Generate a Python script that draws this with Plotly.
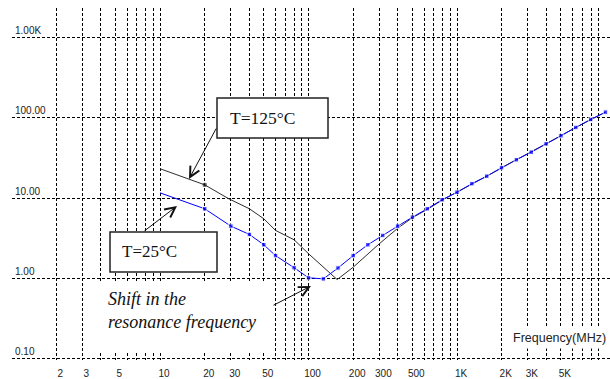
import plotly.graph_objects as go

# ---- data ----
freq_25 = [10, 20, 30, 40, 50, 60, 80, 100, 126, 158, 200, 251, 316, 398, 501, 631, 794,
           1000, 1259, 1585, 1995, 2512, 3162, 3981, 5012, 6310, 7943, 10000]
imp_25 = [11.6, 7.34, 4.46, 3.51, 2.61, 1.91, 1.35, 1.01, 0.98, 1.34, 1.91, 2.61, 3.41, 4.46,
          5.77, 7.34, 9.51, 11.8, 15.1, 18.7, 23.9, 30.0, 37.3, 47.5, 59.8, 75.9, 95.5, 117.8]
freq_125 = [10, 20, 29, 40, 50, 60, 80, 100, 156, 200, 300, 400, 500, 631, 794,
            1000, 1259, 1585, 1995, 2512, 3162, 3981, 5012, 6310, 7943, 10000]
imp_125 = [23.2, 14.6, 9.8, 7.34, 5.51, 3.94, 3.01, 2.02, 0.96, 1.37, 2.69, 4.21, 5.67, 7.2, 9.4,
           11.8, 15.1, 18.7, 23.9, 30.0, 37.3, 47.5, 59.8, 75.9, 95.5, 117.8]

x_label_vals = [2, 3, 5, 10, 20, 30, 50, 100, 200, 300, 500, 1000, 2000, 3000, 5000]
x_label_text = ["2", "3", "5", "10", "20", "30", "50", "100", "200", "300", "500", "1K", "2K", "3K", "5K"]
x_minor_vals = [4, 6, 7, 8, 9, 40, 60, 70, 80, 90, 400, 600, 700, 800, 900,
                4000, 6000, 7000, 8000, 9000]
y_tick_vals = [0.1, 1, 10, 100, 1000]
y_tick_text = ["0.10", "1.00", "10.00", "100.00", "1.00K"]

W, H = 610, 379
ML, MR, MT, MB = 12, 0, 8, 19
PW, PH = W - ML - MR, H - MT - MB


def px(x):
    return (x - ML) / PW


def py(y):
    return (H - MB - y) / PH


fig = go.Figure()
fig.add_trace(go.Scatter(
    x=freq_125, y=imp_125, mode="lines+markers",
    line=dict(color="#2e2e2e", width=1),
    marker=dict(symbol="square", color="#111111",
                size=[0, 3] + [0] * (len(freq_125) - 2)),
    showlegend=False, hoverinfo="skip"))
fig.add_trace(go.Scatter(
    x=freq_25, y=imp_25, mode="lines+markers",
    line=dict(color="#0000ff", width=1),
    marker=dict(symbol="square", color="#0000ff",
                size=[0] + [4.5] * (len(freq_25) - 1)),
    showlegend=False, hoverinfo="skip"))

grid = dict(showgrid=True, gridcolor="#000000", gridwidth=1, griddash="3px,2px")

fig.update_xaxes(
    type="log", range=[0.0034, 0.0034 + PW / 148.5],
    tickmode="array", tickvals=x_label_vals, ticktext=x_label_text,
    ticks="", ticklabelshift=4, ticklabelstandoff=6,
    tickfont=dict(family="Liberation Sans, Arial", size=10, color="#222222"),
    showline=False, zeroline=False, automargin=False,
    minor=dict(tickmode="array", tickvals=x_minor_vals, ticks="", **grid),
    **grid)
fig.update_yaxes(
    type="log", range=[-1.0212, 3.3706],
    tickmode="array", tickvals=y_tick_vals, ticktext=y_tick_text,
    ticks="", ticklabelposition="inside top",
    tickfont=dict(family="Liberation Sans, Arial", size=10, color="#222222"),
    showline=False, zeroline=False, automargin=False,
    **grid)

shapes = [
    # white area behind italic note
    dict(type="rect", xref="paper", yref="paper", x0=px(95), x1=px(270), y0=py(352), y1=py(283),
         fillcolor="white", line=dict(width=0), layer="above"),
    # label boxes
    dict(type="rect", xref="paper", yref="paper", x0=px(217), x1=px(328), y0=py(138), y1=py(98),
         fillcolor="white", line=dict(color="#222222", width=1.5), layer="above"),
    dict(type="rect", xref="paper", yref="paper", x0=px(110), x1=px(217), y0=py(272), y1=py(232),
         fillcolor="white", line=dict(color="#222222", width=1.5), layer="above"),
]

annos = [
    dict(text="T=125°C", x=px(228), y=py(118), xanchor="left", yanchor="middle",
         font=dict(family="Liberation Serif, Times New Roman", size=17.5, color="#111111")),
    dict(text="T=25°C", x=px(120), y=py(252), xanchor="left", yanchor="middle",
         font=dict(family="Liberation Serif, Times New Roman", size=17, color="#111111")),
    dict(text="<i>Shift in the<br>resonance frequency</i>", x=px(106), y=py(310),
         xanchor="left", yanchor="middle", align="left",
         font=dict(family="Liberation Serif, Times New Roman", size=18, color="#111111")),
    dict(text="Frequency(MHz)", x=px(509), y=py(338), xanchor="left", yanchor="middle",
         bgcolor="white", borderpad=3,
         font=dict(family="Liberation Sans, Arial", size=12.5, color="#222222")),
]
# arrows: (tail, head) in pixel positions
arrows = [((217, 127), (189, 179)), ((143, 232), (177, 206)), ((272, 306), (311, 286))]
for (tx, ty), (hx, hy) in arrows:
    annos.append(dict(text="", x=px(hx), y=py(hy), ax=tx - hx, ay=ty - hy,
                      showarrow=True, arrowhead=5, arrowsize=2.0, arrowwidth=1,
                      arrowcolor="#111111"))
for a in annos:
    a.setdefault("xref", "paper")
    a.setdefault("yref", "paper")
    a.setdefault("showarrow", False)

fig.update_layout(
    width=W, height=H, template="none",
    margin=dict(l=ML, r=MR, t=MT, b=MB, pad=0),
    paper_bgcolor="white", plot_bgcolor="white",
    shapes=shapes, annotations=annos, showlegend=False)

fig.write_html("out.html")
